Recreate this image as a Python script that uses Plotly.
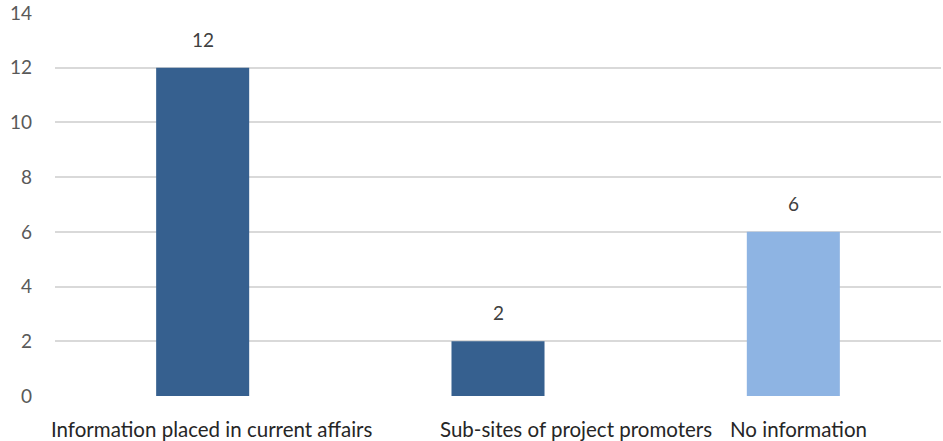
import plotly.graph_objects as go

categories = ["Information placed in current affairs", "Sub-sites of project promoters", "No information"]
values = [12, 2, 6]
y_ticks = [0, 2, 4, 6, 8, 10, 12, 14]

bar_colors = ["#36608F", "#36608F", "#8EB4E3"]
label_xshift = [9, 78, 5]
FONT = "Lato"

fig = go.Figure()
fig.add_trace(go.Bar(
    x=categories, y=values, marker=dict(color=bar_colors, line=dict(width=0)),
    hoverinfo="skip", showlegend=False,
))

for cat, v in zip(categories, values):
    fig.add_annotation(x=cat, y=v, xref="x", yref="y", text=str(v), showarrow=False,
                       yanchor="bottom", yshift=15,
                       font=dict(family=FONT, size=19, color="#404040"))

for cat, xs in zip(categories, label_xshift):
    fig.add_annotation(x=cat, y=0, xref="x", yref="paper", text=cat, showarrow=False,
                       yanchor="middle", yshift=-33, xshift=xs,
                       font=dict(family=FONT, size=20.5, color="#262626"))

fig.update_layout(
    width=943, height=441,
    margin=dict(l=55, r=2, t=13, b=45, autoexpand=False),
    paper_bgcolor="white", plot_bgcolor="white",
    bargap=0.685,
    xaxis=dict(showticklabels=False, showgrid=False, zeroline=False, showline=False, ticks="",
               automargin=False, range=[-0.5, 2.5]),
    yaxis=dict(range=[0, 14], tickvals=y_ticks, showgrid=True, gridcolor="#D9D9D9", gridwidth=2,
               zeroline=False, showline=False, ticks="", ticklabelstandoff=22, automargin=False,
               tickfont=dict(family=FONT, size=19, color="#595959")),
    font=dict(family=FONT),
)

fig.write_html("out.html")
